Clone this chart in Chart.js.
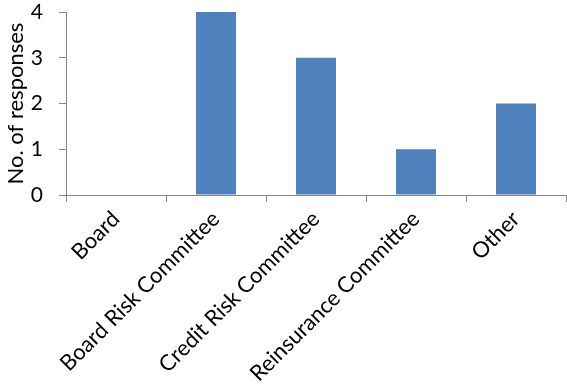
<!DOCTYPE html>
<html>
<head>
<meta charset="utf-8">
<script src="https://cdn.jsdelivr.net/npm/chart.js"></script>
<style>
html,body{margin:0;padding:0;background:#fff;}
#wrap{width:567px;height:384px;position:relative;}
</style>
</head>
<body>
<div id="wrap"><canvas id="c"></canvas></div>
<script>
const categories = ["Board", "Board Risk Committee", "Credit Risk Committee", "Reinsurance Committee", "Other"];
const responses = [0, 4, 3, 1, 2];
const yTicks = [0, 1, 2, 3, 4];
const yTitle = "No. of responses";

const FONT = "Lato, 'Open Sans', sans-serif";
new Chart(document.getElementById('c'), {
  type: 'bar',
  data: {
    labels: categories,
    datasets: [{
      data: responses,
      backgroundColor: '#4F81BD',
      borderWidth: 0,
      categoryPercentage: 1.0,
      barPercentage: 0.4
    }]
  },
  options: {
    responsive: true,
    maintainAspectRatio: false,
    animation: false,
    layout: { padding: { top: 12, right: 1, left: 0, bottom: 0 } },
    plugins: { legend: { display: false }, tooltip: { enabled: false } },
    scales: {
      x: {
        offset: true,
        afterFit: (axis) => { axis.height = 189; },
        grid: { display: true, offset: true, drawOnChartArea: false, drawTicks: true, tickLength: 7, color: '#868686' },
        border: { display: true, color: '#868686', width: 1 },
        ticks: { color: '#000', font: { family: FONT, size: 22 }, minRotation: 45, maxRotation: 45, autoSkip: false, padding: 4 }
      },
      y: {
        min: 0, max: 4,
        afterFit: (axis) => { axis.width = 66; axis.paddingTop = 0; axis.paddingBottom = 0; },
        afterBuildTicks: (axis) => { axis.ticks = yTicks.map(v => ({ value: v })); },
        grid: { display: true, drawOnChartArea: false, drawTicks: true, tickLength: 7, color: '#868686' },
        border: { display: true, color: '#868686', width: 1 },
        ticks: { color: '#000', font: { family: FONT, size: 21 }, padding: 16 },
        title: { display: true, text: yTitle, color: '#000', font: { family: FONT, size: 22 }, padding: { top: 3, bottom: 0 } }
      }
    }
  }
});
</script>
</body>
</html>
